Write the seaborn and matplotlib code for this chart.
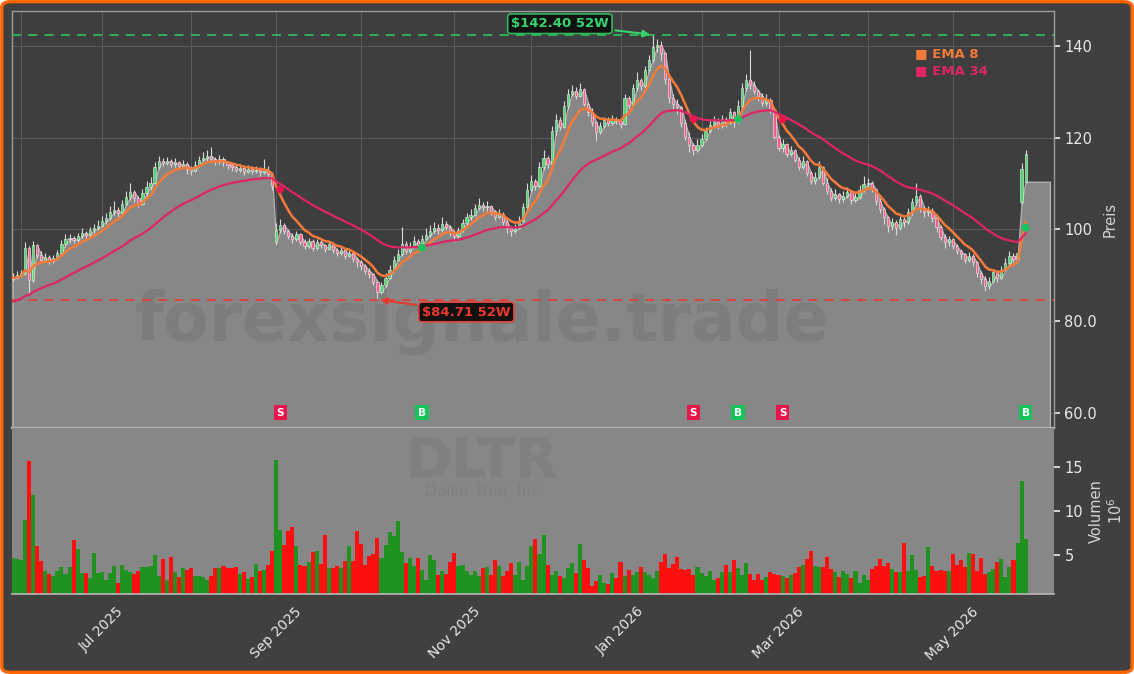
"""DLTR Tageschart: Kerzen, EMA 8/34, 52W-Hoch/Tief und Volumen."""

import matplotlib

matplotlib.use("Agg")
import matplotlib.pyplot as plt
import numpy as np
import pandas as pd
import seaborn as sns
from matplotlib.patches import FancyBboxPatch
from matplotlib.ticker import FixedLocator, FuncFormatter

# Handelstage (NYSE-Feiertage fallen raus)
START, END = "2025-05-29", "2026-05-28"
HOLIDAYS = ["2025-06-19", "2025-07-04", "2025-09-01", "2025-11-27", "2025-12-25",
            "2026-01-01", "2026-01-19", "2026-02-16", "2026-04-03", "2026-05-25"]

# --- Schluss / Hoch / Tief je Monat (USD), Volumen in Mio. ---
close_may25 = [89.5, 90.0]
high_may25 = [90.4, 90.9]
low_may25 = [88.7, 89.1]
vol_may25 = [4.7, 4.6]

close_jun25 = [90.4, 96.0, 89.0, 96.5, 94.5, 93.4, 93.9, 93.0, 93.8, 94.9,
               96.8, 97.8, 98.2, 97.6, 98.5, 99.3, 98.8, 99.8, 100.2, 100.8]
high_jun25 = [91.2, 97.2, 96.4, 97.4, 96.9, 95.2, 94.8, 94.4, 94.5, 95.6,
              97.6, 98.9, 99.0, 98.6, 99.3, 100.4, 99.6, 100.6, 101.2, 102.1]
low_jun25 = [89.6, 90.1, 86.1, 88.6, 93.8, 92.8, 93.0, 92.4, 92.6, 93.4,
             94.5, 96.2, 97.1, 97.0, 97.3, 98.1, 98.2, 98.4, 99.3, 99.8]
vol_jun25 = [4.4, 9.0, 15.7, 11.9, 6.0, 4.3, 3.2, 2.8, 2.6, 3.2,
             3.6, 2.8, 3.6, 6.7, 5.7, 3.0, 2.9, 2.4, 5.2, 2.9]

close_jul25 = [101.8, 102.5, 103.8, 104.2, 103.5, 105.5, 107.0, 108.2, 106.8, 105.6, 107.9,
               109.3, 110.2, 113.6, 114.8, 114.5, 115.0, 114.2, 114.6, 113.9, 114.3, 113.2]
high_jul25 = [102.9, 103.6, 105.0, 106.1, 104.9, 106.4, 108.3, 110.1, 108.6, 107.2, 108.8,
              110.6, 111.4, 114.6, 115.9, 115.6, 115.8, 115.4, 115.5, 114.9, 115.2, 114.6]
low_jul25 = [100.6, 101.2, 102.0, 103.1, 102.6, 103.2, 105.0, 106.4, 106.0, 104.9, 105.3,
             107.2, 108.6, 109.8, 113.2, 113.8, 114.0, 113.6, 113.7, 113.2, 113.4, 112.0]
vol_jul25 = [3.1, 2.2, 3.0, 3.7, 1.8, 3.9, 3.3, 3.1, 2.8, 3.2, 3.6,
             3.6, 3.8, 5.0, 2.6, 4.6, 2.1, 4.8, 3.1, 2.5, 3.5, 3.3]

close_aug25 = [112.8, 114.0, 115.2, 115.6, 116.0, 115.3, 114.8, 115.4, 114.6, 114.0, 113.6,
               113.0, 113.4, 112.6, 113.2, 112.8, 113.0, 112.4, 113.0, 112.0, 109.5]
high_aug25 = [113.9, 114.8, 116.1, 116.8, 117.2, 117.9, 115.8, 116.2, 115.7, 114.9, 114.5,
              114.1, 114.2, 113.6, 114.0, 113.9, 113.8, 113.6, 115.3, 113.9, 112.6]
low_aug25 = [111.8, 112.5, 113.7, 114.8, 115.0, 114.6, 114.0, 114.3, 113.8, 113.2, 112.8,
             112.4, 112.5, 111.9, 112.3, 112.1, 112.2, 111.6, 112.1, 111.2, 108.6]
vol_aug25 = [3.5, 2.6, 2.6, 2.5, 2.1, 2.6, 3.5, 3.5, 3.8, 3.5, 3.5,
             3.6, 2.8, 3.1, 2.3, 2.5, 4.0, 3.2, 3.3, 3.9, 5.5]

close_sep25 = [99.8, 101.0, 99.6, 98.6, 97.8, 98.9, 97.2, 96.4, 97.4, 96.0, 97.3,
               96.6, 95.8, 96.9, 95.4, 94.8, 95.6, 94.2, 94.9, 93.6, 92.8]
high_sep25 = [101.4, 102.2, 101.3, 100.1, 99.2, 99.6, 99.3, 97.8, 98.2, 97.8, 98.0,
              97.6, 96.9, 97.5, 97.2, 95.9, 96.4, 95.8, 95.6, 95.2, 93.9]
low_sep25 = [96.6, 99.2, 99.0, 97.9, 97.1, 97.4, 96.6, 95.7, 96.0, 95.3, 95.6,
             95.9, 95.1, 95.4, 94.8, 94.1, 94.5, 93.6, 93.9, 92.9, 91.8]
vol_sep25 = [15.9, 7.9, 6.2, 7.7, 8.2, 6.0, 3.9, 3.8, 4.2, 5.3, 5.5,
             4.0, 7.3, 3.5, 3.5, 3.8, 3.5, 4.3, 6.0, 4.3, 7.7]

close_oct25 = [92.0, 91.0, 90.2, 88.6, 86.3, 87.8, 89.5, 91.2, 93.4, 94.6, 96.8, 95.2,
               96.3, 97.5, 96.6, 97.9, 98.8, 99.6, 100.4, 99.8, 101.2, 100.6, 99.4]
high_oct25 = [93.4, 92.5, 91.6, 90.4, 88.9, 88.6, 90.4, 92.3, 94.2, 95.8, 100.6, 97.4,
              97.2, 98.6, 98.0, 98.8, 100.3, 100.9, 101.6, 101.2, 102.6, 101.9, 101.0]
low_oct25 = [91.2, 90.3, 89.4, 87.9, 84.71, 85.9, 87.4, 89.2, 90.8, 93.1, 94.2, 94.6,
             94.8, 96.1, 95.9, 96.2, 97.6, 98.4, 99.1, 98.9, 99.4, 99.8, 98.6]
vol_oct25 = [6.3, 3.9, 4.9, 5.1, 6.9, 4.7, 6.1, 7.6, 7.2, 8.9, 5.3, 4.1,
             4.7, 3.8, 4.7, 3.3, 2.2, 5.0, 4.4, 2.7, 3.2, 2.8, 4.2]

close_nov25 = [98.6, 99.8, 101.4, 102.6, 103.2, 104.6, 105.3, 104.8, 105.1, 103.9,
               102.8, 103.4, 101.6, 100.2, 99.6, 100.4, 101.8, 104.9, 108.6]
high_nov25 = [99.9, 100.6, 102.3, 103.5, 104.4, 105.6, 106.8, 105.9, 106.2, 105.4,
              104.2, 104.5, 103.8, 102.0, 100.8, 101.2, 102.9, 105.8, 110.1]
low_nov25 = [97.3, 98.2, 99.5, 101.0, 102.1, 103.0, 104.2, 103.9, 104.1, 103.1,
             102.1, 102.4, 100.9, 99.1, 98.6, 99.2, 100.1, 101.5, 104.6]
vol_nov25 = [5.2, 3.8, 3.9, 3.2, 2.7, 3.2, 2.6, 3.5, 3.6, 2.7,
             4.4, 3.8, 2.6, 3.2, 4.1, 2.7, 4.2, 2.2, 3.8]

close_dec25 = [110.6, 109.4, 113.5, 115.6, 114.2, 121.4, 123.8, 122.4, 126.8, 129.5, 130.2,
               129.1, 130.6, 127.4, 125.6, 123.4, 121.2, 122.6, 123.8, 123.2, 124.1, 123.6]
high_dec25 = [111.8, 111.0, 114.6, 117.2, 116.0, 122.6, 125.2, 124.6, 128.0, 130.6, 131.4,
              131.0, 131.9, 130.9, 127.8, 126.4, 123.6, 123.4, 124.6, 124.4, 124.9, 124.6]
low_dec25 = [108.2, 108.6, 109.0, 113.0, 113.4, 113.8, 120.6, 121.6, 122.0, 126.2, 129.0,
             128.4, 128.8, 126.8, 124.8, 122.6, 119.2, 120.8, 122.1, 122.5, 122.8, 122.9]
vol_dec25 = [6.0, 6.8, 5.1, 7.3, 3.9, 2.7, 3.2, 2.6, 2.4, 3.5, 4.1,
             3.0, 6.3, 4.4, 3.5, 1.5, 2.0, 2.7, 1.8, 1.7, 3.0, 2.4]

close_jan26 = [123.0, 128.6, 127.2, 130.8, 132.6, 131.2, 134.8, 136.9, 139.8, 140.2,
               138.4, 132.8, 128.6, 127.4, 126.6, 123.2, 120.1, 118.3, 117.2, 118.4]
high_jan26 = [124.2, 129.4, 129.0, 131.6, 134.2, 133.0, 135.6, 138.0, 142.4, 141.6,
              141.0, 138.6, 133.2, 129.6, 128.4, 127.0, 123.8, 121.2, 118.9, 119.6]
low_jan26 = [122.1, 122.8, 126.4, 126.9, 130.2, 130.4, 130.9, 134.2, 136.4, 138.6,
             136.8, 131.6, 127.6, 126.2, 125.1, 122.4, 119.4, 116.9, 116.2, 116.8]
vol_jan26 = [4.2, 2.6, 3.3, 2.7, 3.1, 3.6, 3.1, 2.7, 2.4, 3.2,
             4.2, 5.1, 3.5, 4.0, 4.8, 3.4, 3.3, 3.4, 2.7, 3.6]

close_feb26 = [119.6, 121.4, 122.8, 123.6, 122.6, 124.1, 123.2, 125.6, 123.4, 126.8,
               130.9, 132.6, 131.4, 130.2, 129.0, 127.6, 128.2, 126.0, 120.2]
high_feb26 = [120.8, 122.3, 123.9, 124.8, 124.2, 125.0, 124.6, 126.4, 125.9, 128.2,
              131.8, 133.8, 139.1, 132.4, 130.6, 129.8, 129.4, 128.6, 126.2]
low_feb26 = [118.0, 119.2, 120.9, 122.4, 121.8, 122.2, 122.4, 122.9, 122.4, 123.1,
             126.5, 130.2, 130.6, 129.4, 127.9, 126.8, 126.9, 125.4, 119.6]
vol_feb26 = [3.0, 2.6, 3.2, 2.2, 2.4, 3.1, 3.9, 3.1, 4.4, 3.5,
             2.7, 4.1, 2.8, 2.1, 2.8, 2.2, 2.5, 3.1, 2.8]

close_mar26 = [117.8, 118.6, 116.4, 117.2, 115.2, 113.6, 114.8, 112.2, 110.6, 111.4, 113.6,
               110.2, 108.4, 106.9, 107.8, 106.6, 107.3, 108.2, 106.4, 107.0, 108.6, 109.8]
high_mar26 = [120.6, 119.8, 118.9, 118.2, 117.6, 115.8, 115.9, 115.2, 112.8, 112.6, 114.8,
              113.9, 111.2, 109.0, 108.9, 107.9, 108.4, 109.2, 108.6, 108.1, 109.6, 111.6]
low_mar26 = [117.0, 116.9, 115.8, 115.9, 114.6, 112.9, 113.1, 111.6, 109.8, 109.9, 110.9,
             109.6, 107.6, 106.1, 106.3, 105.8, 106.0, 106.8, 105.6, 105.9, 106.6, 108.2]
vol_mar26 = [2.7, 2.6, 2.4, 2.7, 3.0, 3.6, 3.9, 4.6, 5.5, 3.8, 3.6,
             3.6, 4.8, 3.4, 3.1, 2.5, 3.2, 2.8, 2.4, 3.2, 1.8, 2.7]

close_apr26 = [110.2, 108.8, 106.2, 104.4, 102.6, 100.8, 101.6, 100.4, 102.2, 101.5, 103.8,
               105.9, 107.2, 104.6, 103.8, 104.1, 102.4, 100.6, 98.4, 97.2, 97.8]
high_apr26 = [111.2, 110.6, 108.9, 106.8, 104.9, 103.0, 102.4, 102.0, 103.0, 102.8, 104.6,
              106.8, 110.0, 107.6, 105.2, 105.0, 104.6, 102.8, 100.9, 98.9, 98.6]
low_apr26 = [109.2, 108.1, 105.4, 103.6, 101.2, 99.4, 99.8, 98.8, 99.9, 100.6, 101.1,
             103.2, 105.4, 103.8, 102.6, 102.9, 101.6, 99.4, 97.6, 95.9, 96.4]
vol_apr26 = [2.2, 3.4, 3.8, 4.6, 3.8, 4.1, 3.4, 3.1, 3.1, 6.4, 3.2,
             5.0, 3.3, 2.5, 2.6, 5.9, 3.8, 3.2, 3.3, 3.2, 3.2]

close_may26 = [96.4, 95.2, 94.6, 93.4, 94.2, 92.8, 90.4, 89.2, 87.6, 88.8,
               90.6, 89.4, 91.2, 92.6, 94.3, 93.6, 94.8, 113.2, 116.4]
high_may26 = [98.2, 96.9, 95.8, 94.9, 95.1, 94.6, 93.2, 90.9, 89.9, 89.6,
              91.4, 91.2, 92.1, 93.8, 95.3, 94.9, 95.6, 114.5, 117.2]
low_may26 = [95.8, 94.6, 93.6, 92.6, 92.9, 92.1, 89.6, 88.1, 86.5, 87.0,
             88.2, 88.6, 89.1, 90.9, 92.2, 92.8, 93.1, 105.6, 110.0]
vol_may26 = [5.1, 3.9, 4.4, 3.6, 5.2, 5.1, 3.2, 4.7, 2.8, 3.1,
             3.4, 4.2, 4.6, 2.5, 3.6, 4.4, 6.4, 13.4, 6.8]

# Eroeffnung = Vortagesschluss, ausser an diesen Tagen (Gaps)
OPEN_GAPS = {"2025-05-29": 89.2, "2025-09-02": 97.2,
             "2026-05-27": 106.0, "2026-05-28": 110.4}

# EMA-Startwerte am ersten Tag (aus Vorlauf-Historie)
EMA8_START, EMA34_START = 89.4, 84.2

# Kreuzungssignale EMA 8 / EMA 34
SIGNAL_DATES = ["2025-09-03", "2025-10-22", "2026-01-29", "2026-02-13", "2026-03-03", "2026-05-28"]
SIGNAL_TYPES = ["S", "B", "S", "B", "S", "B"]

TICKER, COMPANY = "DLTR", "Dollar Tree, Inc"

MONTHS = ["may25", "jun25", "jul25", "aug25", "sep25", "oct25", "nov25",
          "dec25", "jan26", "feb26", "mar26", "apr26", "may26"]


def collect(prefix):
    g = globals()
    return sum((g[f"{prefix}_{m}"] for m in MONTHS), [])


def ema(values, start, span):
    a = 2.0 / (span + 1)
    out = [start]
    for v in values[1:]:
        out.append(out[-1] + a * (v - out[-1]))
    return np.array(out)


def main() -> None:
    dates = pd.bdate_range(START, END, freq="C", holidays=HOLIDAYS)
    df = pd.DataFrame({"date": dates, "close": collect("close"), "high": collect("high"),
                       "low": collect("low"), "vol": collect("vol")})
    df["open"] = df["close"].shift(1)
    for d, v in OPEN_GAPS.items():
        df.loc[df["date"] == pd.Timestamp(d), "open"] = v
    df["i"] = np.arange(len(df))
    df["up"] = df["close"] >= df["open"]
    df["ema8"] = ema(df["close"].tolist(), EMA8_START, 8)
    df["ema34"] = ema(df["close"].tolist(), EMA34_START, 34)

    bg, ax_bg, fill_c, txt = "#404040", "#3e3e3e", "#878787", "#e8e8e8"
    c_ema8, c_ema34 = "#f47a3a", "#df2468"

    sns.set_theme(style="dark", rc={"axes.facecolor": ax_bg, "figure.facecolor": bg,
                                    "grid.color": "#5a5a5a", "text.color": txt,
                                    "xtick.color": txt, "ytick.color": txt,
                                    "axes.labelcolor": "#d4d4d4"})
    plt.rcParams["font.family"] = ["DejaVu Sans"]

    fig = plt.figure(figsize=(11.34, 6.74), dpi=100)
    fig.patch.set_facecolor("white")
    fig.patches.append(FancyBboxPatch((0.0016, 0.0025), 0.9968, 0.995,
                                      boxstyle="round,pad=0,rounding_size=0.008",
                                      transform=fig.transFigure, facecolor=bg,
                                      edgecolor="#ff6400", lw=2.4, zorder=-10))
    ax = fig.add_axes([12 / 1134, 246 / 674, 1042 / 1134, 417 / 674])
    axv = fig.add_axes([12 / 1134, 80 / 674, 1042 / 1134, 166 / 674], sharex=ax)

    # --- Preis ---
    ax.set_xlim(-0.2, 257)
    ax.set_ylim(56.7, 147.6)
    ybot = ax.get_ylim()[0]
    xf = np.append(df["i"].values, df["i"].iloc[-1] + 6)
    yf = np.append(df["open"].values, df["open"].iloc[-1])
    ax.fill_between(xf, yf, ybot, facecolor=fill_c, edgecolor="#b4b4b4", lw=0.9, zorder=2)

    ax.vlines(df["i"], df["low"], df["high"], color="#dadada", lw=0.8, zorder=3)
    body_lo = df[["open", "close"]].min(axis=1)
    body_h = (df["close"] - df["open"]).abs().clip(lower=0.2)
    ax.bar(df["i"], body_h, bottom=body_lo, width=0.55,
           color=np.where(df["up"], "#4cd86c", "#ff5a8e"),
           edgecolor="#eeeeee", lw=0.4, zorder=4)

    sns.lineplot(x=df["i"], y=df["ema8"], color=c_ema8, lw=1.8, ax=ax, zorder=5)
    sns.lineplot(x=df["i"], y=df["ema34"], color=c_ema34, lw=1.6, ax=ax, zorder=5)

    hi52, lo52 = df["high"].max(), df["low"].min()
    i_hi, i_lo = df["high"].idxmax(), df["low"].idxmin()
    ax.axhline(hi52, color="#2fb85e", ls=(0, (5, 4)), lw=1.3, zorder=3)
    ax.axhline(lo52, color="#e0403a", ls=(0, (5, 4)), lw=1.3, zorder=3)
    ax.annotate(f"\\${hi52:.2f} 52W", xy=(i_hi, hi52), xytext=(-67, 8),
                textcoords="offset points", ha="center", va="center",
                color="#35d46e", fontsize=9.5, fontweight="bold",
                bbox=dict(boxstyle="round,pad=0.25", fc="#111111", ec="#2fb85e", lw=1.2),
                arrowprops=dict(arrowstyle="-|>", mutation_scale=10, color="#35d46e", lw=1.5),
                zorder=8)
    ax.annotate(f"\\${lo52:.2f} 52W", xy=(i_lo, lo52), xytext=(64, -9),
                textcoords="offset points", ha="center", va="center",
                color="#e8392f", fontsize=9.5, fontweight="bold",
                bbox=dict(boxstyle="round,pad=0.25", fc="#111111", ec="#e0403a", lw=1.2),
                arrowprops=dict(arrowstyle="-|>", mutation_scale=10, color="#e8392f", lw=1.5),
                zorder=8)

    # Signale: Punkt am Kreuzungspunkt, Box unten
    sig = df.set_index("date").loc[pd.to_datetime(SIGNAL_DATES)]
    sig_col = ["#e8174b" if t == "S" else "#16c25a" for t in SIGNAL_TYPES]
    sns.scatterplot(x=sig["i"].values, y=((sig["ema8"] + sig["ema34"]) / 2).values,
                    color=sig_col, s=32, edgecolor="none", ax=ax, zorder=6)
    for xi, t, c in zip(sig["i"], SIGNAL_TYPES, sig_col):
        ax.text(xi, 60, t, ha="center", va="center", color="white", fontsize=7.5,
                fontweight="bold", zorder=7,
                bbox=dict(boxstyle="square,pad=0.25", fc=c, ec="none"))

    ax.text(0.867, 0.899, "■ EMA 8", transform=ax.transAxes, color=c_ema8,
            fontsize=9.5, fontweight="bold", va="center")
    ax.text(0.867, 0.858, "■ EMA 34", transform=ax.transAxes, color=c_ema34,
            fontsize=9.5, fontweight="bold", va="center")
    ax.text(0.451, 0.254, "forexsignale.trade", transform=ax.transAxes, ha="center",
            va="center", fontsize=48, fontweight="bold", color="black", alpha=0.07, zorder=2.5)

    ax.yaxis.tick_right()
    ax.yaxis.set_label_position("right")
    ax.set_yticks([60, 80, 100, 120, 140])
    ax.yaxis.set_major_formatter(FuncFormatter(lambda v, _: f"{v:.1f}" if v < 100 else f"{v:.0f}"))
    ax.set_ylabel("Preis", fontsize=10.5)
    ax.grid(True, color="#5a5a5a", lw=0.8)
    ax.tick_params(axis="y", labelsize=10.5, length=4, color=txt)
    ax.tick_params(axis="x", length=0, labelbottom=False)
    for s in ax.spines.values():
        s.set_color("#9c9c9c")
        s.set_linewidth(1.0)
    ax.spines["bottom"].set_color("#b4b4b4")
    ax.spines["bottom"].set_linewidth(1.6)

    # Monatsanfaenge als Ticks, jeder zweite beschriftet
    firsts = df.groupby(df["date"].dt.to_period("M"))["i"].first().iloc[1:]
    tick_pos = firsts.tolist()
    tick_lab = [d.strftime("%b %Y") if k % 2 == 1 else ""
                for k, d in enumerate(df.loc[tick_pos, "date"])]
    ax.xaxis.set_major_locator(FixedLocator(tick_pos))
    ax.xaxis.set_major_formatter(FuncFormatter(
        lambda v, p: tick_lab[tick_pos.index(int(round(v)))] if int(round(v)) in tick_pos else ""))

    # --- Volumen ---
    axv.set_facecolor(fill_c)
    axv.bar(df["i"], df["vol"], width=1.0,
            color=np.where(df["up"], "#1f921f", "#ff1010"), lw=0)
    axv.set_ylim(0.55, 19.5)
    axv.yaxis.tick_right()
    axv.yaxis.set_label_position("right")
    axv.set_yticks([5, 10, 15])
    axv.set_ylabel("Volumen\n$10^6$", fontsize=10.5)
    axv.tick_params(axis="y", labelsize=10.5, length=4, color=txt)
    axv.tick_params(axis="x", labelsize=10, length=4, color=txt, rotation=45)
    axv.grid(False)
    for k in ("top", "left", "right"):
        axv.spines[k].set_visible(False)
    axv.spines["bottom"].set_color("#b4b4b4")
    axv.text(0.451, 0.795, TICKER, transform=axv.transAxes, ha="center", va="center",
             fontsize=40, fontweight="bold", color="black", alpha=0.05)
    axv.text(0.451, 0.62, COMPANY, transform=axv.transAxes, ha="center", va="center",
             fontsize=11, color="black", alpha=0.05)

    fig.savefig("out.png", dpi=100, facecolor=fig.get_facecolor())
    plt.close(fig)


if __name__ == "__main__":
    main()
